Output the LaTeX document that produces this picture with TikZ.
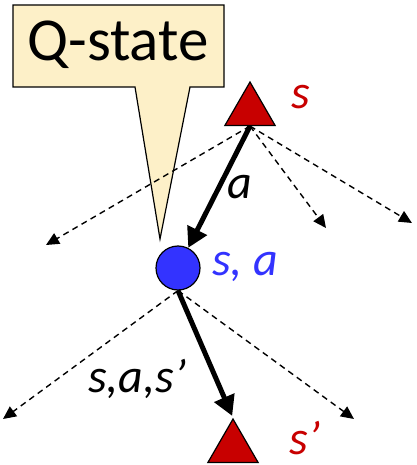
\documentclass[tikz,border=0pt]{standalone}
\usepackage{fontspec}
\setmainfont{Carlito}
\usetikzlibrary{shapes.geometric,arrows.meta}
\definecolor{stred}{HTML}{C80000}
\definecolor{qblue}{HTML}{3333FF}
\definecolor{callfill}{HTML}{FDF0C8}
\begin{document}
\begin{tikzpicture}[x=1pt,y=-1pt,
  statetri/.style={regular polygon,regular polygon sides=3,minimum size=58pt,inner sep=0pt,fill=stred,draw=black,line width=1.2pt},
  qcirc/.style={circle,minimum size=44pt,inner sep=0pt,fill=qblue,draw=black,line width=1.2pt},
  thickarr/.style={line width=5pt,-{Triangle[length=20pt,width=21pt]}},
  dasharr/.style={line width=1.4pt,dash pattern=on 6pt off 4.5pt,-{Triangle[length=13pt,width=12pt]}},
  lbl/.style={font=\fontsize{48}{48}\selectfont\itshape,inner sep=0pt}]
\useasboundingbox (0,0) rectangle (416,465);
% callout
\draw[fill=callfill,line width=1.2pt,line join=miter] (13,5) -- (224,5) -- (224,87) -- (190,87) -- (160,239) -- (135,87) -- (13,87) -- cycle;
\node[font=\fontsize{61}{61}\selectfont,inner sep=0pt] (qlabel) at (118,45) {Q-state};
% nodes
\node[statetri] (s) at (250,111) {};
\node[qcirc] (sa) at (178,268) {};
\node[statetri] (sp) at (233,448) {};
\node[lbl,text=stred] (slabel) at (301,97) {s};
\node[lbl,text=qblue,anchor=west] (salabel) at (212,267) {s, a};
\node[lbl,text=stred] (splabel) at (305,438) {s’};
\node[lbl] (alabel) at (240,187) {a};
\node[lbl] (saslabel) at (137,379) {s,a,s’};
% end coordinates
\coordinate (d1) at (46,245);
\coordinate (d2) at (326,228);
\coordinate (d3) at (412,223);
\coordinate (d4) at (3,419);
\coordinate (d5) at (354,419);
% connectors
\draw[dasharr] (s.south) -- (d1);
\draw[dasharr] (s.south) -- (d2);
\draw[dasharr] (s.south) -- (d3);
\draw[dasharr] (sa.south) -- (d4);
\draw[dasharr] (sa.south) -- (d5);
\draw[thickarr] (s.south) -- (sa);
\draw[thickarr,shorten >=2pt] (sa.south) -- (sp.corner 1);
\end{tikzpicture}
\end{document}
